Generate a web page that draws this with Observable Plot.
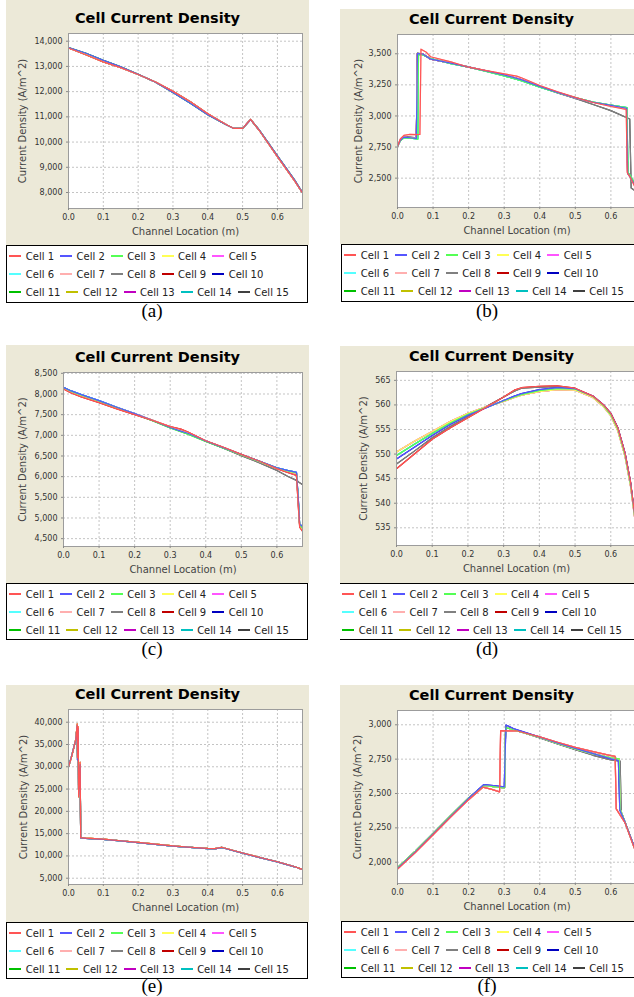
<!DOCTYPE html>
<html><head><meta charset="utf-8">
<script src="https://cdn.jsdelivr.net/npm/d3@7"></script>
<script src="https://cdn.jsdelivr.net/npm/@observablehq/plot@0.6"></script>
<style>
html,body{margin:0;padding:0;background:#fff;overflow:hidden;}
#fig{position:relative;width:634px;height:997px;overflow:hidden;background:#fff;}
.panel{position:absolute;background:#ECE9D8;}
.title{position:absolute;left:0;width:303px;text-align:center;font-family:"DejaVu Sans";font-weight:bold;font-size:14.5px;line-height:18px;color:#000;}
.plotwrap{position:absolute;}
.legend{position:absolute;background:#fff;border:1px solid #000;box-sizing:border-box;padding-left:2.3px;padding-top:1px;font-family:"DejaVu Sans";font-size:10px;color:#222;white-space:nowrap;overflow:hidden;}
.lrow{height:18px;display:flex;align-items:center;}
.item{display:flex;align-items:center;margin-right:6px;}
.swatch{width:12px;margin-right:4.5px;}
.caption{position:absolute;width:60px;text-align:center;font-family:"Liberation Serif";font-size:19px;line-height:18px;color:#000;}
</style></head>
<body><div id="fig"></div>
<script>
const cellNames = ["Cell 1","Cell 2","Cell 3","Cell 4","Cell 5","Cell 6","Cell 7","Cell 8","Cell 9","Cell 10","Cell 11","Cell 12","Cell 13","Cell 14","Cell 15"];
const cellColors = ["#ff5555","#5555ff","#55ff55","#ffff55","#ff55ff","#55ffff","#ffafaf","#808080","#c00000","#0000c0","#00c000","#c0c000","#c000c0","#00c0c0","#404040"];
const xTicks = [0, 0.1, 0.2, 0.3, 0.4, 0.5, 0.6];
const xDomain = [0, 0.672];
const titleText = "Cell Current Density";
const xLabel = "Channel Location (m)";
const yLabel = "Current Density (A/m^2)";
const captions = ["(a)","(b)","(c)","(d)","(e)","(f)"];

// ---- panel (a)
const aX = [0, 0.05, 0.1, 0.15, 0.2, 0.25, 0.3, 0.35, 0.4, 0.45, 0.475, 0.5, 0.523, 0.55, 0.6, 0.65, 0.672];
const aY1 = [13730, 13460, 13180, 12950, 12680, 12380, 12010, 11600, 11120, 10720, 10540, 10540, 10900, 10420, 9420, 8450, 7980];
const aY2 = [13750, 13520, 13240, 12980, 12690, 12370, 11970, 11540, 11080, 10710, 10540, 10540, 10890, 10440, 9450, 8480, 7990];
const aY3 = [13740, 13490, 13210, 12960, 12685, 12375, 11990, 11570, 11100, 10715, 10540, 10540, 10895, 10430, 9435, 8465, 7985];
const aCurveOfCell = [1,2,2,3,3,3,1,3,1,2,2,1,3,3,1];
const aYTicks = [8000, 9000, 10000, 11000, 12000, 13000, 14000];
const aYDomain = [7366, 14305];

// ---- panel (b)
const bX1 = [0, 0.008, 0.018, 0.035, 0.053, 0.056, 0.07, 0.093, 0.15, 0.2, 0.25, 0.3, 0.35, 0.4, 0.45, 0.5, 0.55, 0.6, 0.644, 0.647, 0.655, 0.672];
const bY1 = [2756, 2805, 2830, 2825, 2820, 3502, 3500, 3457, 3425, 3393, 3362, 3330, 3290, 3238, 3190, 3145, 3110, 3085, 3062, 2540, 2505, 2420];
const bX2 = [0, 0.008, 0.018, 0.035, 0.055, 0.063, 0.066, 0.08, 0.093, 0.15, 0.2, 0.25, 0.3, 0.335, 0.35, 0.4, 0.45, 0.5, 0.55, 0.6, 0.643, 0.646, 0.655, 0.672];
const bY2 = [2756, 2815, 2844, 2852, 2850, 2852, 3537, 3515, 3476, 3435, 3392, 3365, 3338, 3320, 3305, 3245, 3195, 3150, 3108, 3076, 3052, 2545, 2505, 2400];
const bX3 = [0, 0.008, 0.018, 0.035, 0.053, 0.056, 0.07, 0.093, 0.15, 0.2, 0.25, 0.3, 0.35, 0.4, 0.45, 0.5, 0.55, 0.6, 0.653, 0.657, 0.672];
const bY3 = [2756, 2808, 2835, 2830, 2825, 3505, 3498, 3460, 3428, 3395, 3360, 3325, 3288, 3235, 3185, 3140, 3092, 3043, 2975, 2420, 2390];
const bX4 = [0, 0.008, 0.018, 0.035, 0.057, 0.059, 0.07, 0.093, 0.15, 0.2, 0.25, 0.3, 0.35, 0.4, 0.45, 0.5, 0.55, 0.6, 0.645, 0.648, 0.655, 0.672];
const bY4 = [2756, 2800, 2825, 2822, 2815, 3495, 3492, 3462, 3420, 3392, 3358, 3322, 3282, 3232, 3188, 3148, 3112, 3088, 3068, 2545, 2520, 2430];
const bCurveOfCell = [2,1,4,1,1,4,2,3,1,1,4,1,1,4,3];
const bYTicks = [2500, 2750, 3000, 3250, 3500];
const bYDomain = [2264, 3655];

// ---- panel (c)
const cX = [0, 0.02, 0.05, 0.1, 0.15, 0.2, 0.25, 0.3, 0.33, 0.35, 0.4, 0.45, 0.5, 0.55, 0.6, 0.63, 0.655, 0.66, 0.664, 0.672];
const cY1 = [8140, 8060, 7960, 7820, 7670, 7520, 7370, 7200, 7110, 7060, 6870, 6700, 6530, 6370, 6200, 6130, 6080, 5400, 4820, 4720];
const cY2 = [8120, 8030, 7930, 7790, 7640, 7500, 7360, 7210, 7150, 7080, 6870, 6710, 6540, 6380, 6195, 6100, 6030, 5300, 4780, 4680];
const cY3 = [8150, 8060, 7960, 7815, 7665, 7515, 7360, 7190, 7100, 7050, 6860, 6690, 6510, 6340, 6150, 6010, 5910, 5880, 5850, 5810];
const cY4 = [8160, 8080, 7985, 7840, 7680, 7525, 7365, 7190, 7100, 7050, 6865, 6700, 6535, 6380, 6215, 6150, 6105, 5500, 4850, 4800];
const cY5 = [8150, 8070, 7970, 7825, 7670, 7515, 7355, 7180, 7090, 7030, 6850, 6690, 6525, 6370, 6205, 6140, 6090, 5450, 4830, 4750];
const cCurveOfCell = [2,4,5,1,1,4,1,3,2,4,5,1,1,4,3];
const cYTicks = [4500, 5000, 5500, 6000, 6500, 7000, 7500, 8000, 8500];
const cYDomain = [4310, 8520];

// ---- panel (d)
const dX = [0, 0.05, 0.1, 0.15, 0.2, 0.25, 0.3, 0.33, 0.35, 0.4, 0.45, 0.5, 0.55, 0.58, 0.6, 0.62, 0.64, 0.655, 0.672];
const dY1 = [547.0, 550.0, 553.0, 555.3, 557.4, 559.5, 561.6, 563.0, 563.5, 563.8, 563.9, 563.4, 561.8, 560.0, 558.3, 555.3, 550.2, 544.5, 534.8];
const dY2 = [548.0, 550.6, 553.3, 555.6, 557.6, 559.6, 561.6, 562.8, 563.4, 563.6, 563.7, 563.3, 561.7, 559.9, 558.2, 555.2, 550.0, 544.3, 534.6];
const dY3 = [549.0, 551.4, 553.8, 556.0, 557.9, 559.4, 560.9, 561.8, 562.3, 563.1, 563.5, 563.3, 561.8, 560.0, 558.3, 555.3, 550.2, 544.4, 534.8];
const dY4 = [549.7, 552.0, 554.2, 556.3, 558.1, 559.5, 560.8, 561.6, 562.1, 562.9, 563.3, 563.2, 561.7, 559.8, 558.0, 555.0, 549.8, 544.0, 534.5];
const dY5 = [550.4, 552.6, 554.6, 556.6, 558.3, 559.6, 560.7, 561.5, 562.0, 562.7, 563.1, 563.0, 561.5, 559.6, 557.8, 554.7, 549.5, 543.6, 534.2];
const dCurveOfCell = [1,3,4,5,5,4,5,2,1,3,4,5,5,4,2];
const dYTicks = [535, 540, 545, 550, 555, 560, 565];
const dYDomain = [531.4, 566.8];

// ---- panel (e)
const eX = [0, 0.008, 0.015, 0.021, 0.025, 0.026, 0.028, 0.029, 0.0335, 0.035, 0.05, 0.1, 0.15, 0.2, 0.25, 0.3, 0.35, 0.4, 0.42, 0.44, 0.5, 0.55, 0.6, 0.65, 0.672];
const eY1 = [30000, 32000, 34200, 36200, 39600, 32000, 39000, 23300, 31000, 14100, 14000, 13770, 13400, 13030, 12650, 12270, 11950, 11680, 11620, 11950, 10650, 9650, 8700, 7580, 6970];
const eY2 = [30050, 32100, 34300, 36000, 39300, 31500, 38600, 23600, 30500, 14050, 13950, 13720, 13360, 13000, 12610, 12220, 11900, 11640, 11600, 11900, 10620, 9620, 8660, 7560, 6960];
const eCurveOfCell = [1,2,2,1,2,2,1,1,1,2,2,1,2,2,1];
const eYTicks = [5000, 10000, 15000, 20000, 25000, 30000, 35000, 40000];
const eYDomain = [3590, 42850];

// ---- panel (f)
const fX1 = [0, 0.05, 0.1, 0.15, 0.2, 0.243, 0.27, 0.3, 0.305, 0.33, 0.4, 0.45, 0.5, 0.55, 0.6, 0.621, 0.625, 0.64, 0.672];
const fY1 = [1955, 2075, 2205, 2335, 2465, 2565, 2558, 2548, 2998, 2968, 2910, 2868, 2828, 2790, 2752, 2740, 2380, 2290, 2070];
const fX2 = [0, 0.05, 0.1, 0.15, 0.2, 0.24, 0.265, 0.287, 0.29, 0.337, 0.4, 0.45, 0.5, 0.55, 0.6, 0.612, 0.615, 0.64, 0.672];
const fY2 = [1950, 2070, 2200, 2330, 2455, 2546, 2530, 2512, 2957, 2955, 2912, 2873, 2836, 2805, 2775, 2770, 2388, 2285, 2060];
const fX3 = [0, 0.05, 0.1, 0.15, 0.2, 0.243, 0.27, 0.301, 0.304, 0.33, 0.4, 0.45, 0.5, 0.55, 0.6, 0.623, 0.626, 0.64, 0.672];
const fY3 = [1960, 2080, 2210, 2340, 2468, 2558, 2550, 2540, 2982, 2960, 2908, 2865, 2825, 2788, 2760, 2752, 2385, 2290, 2065];
const fX4 = [0, 0.05, 0.1, 0.15, 0.2, 0.243, 0.27, 0.301, 0.304, 0.33, 0.4, 0.45, 0.5, 0.55, 0.6, 0.626, 0.629, 0.64, 0.672];
const fY4 = [1958, 2078, 2205, 2335, 2462, 2560, 2553, 2545, 2985, 2962, 2905, 2860, 2818, 2778, 2745, 2735, 2365, 2290, 2068];
const fCurveOfCell = [2,1,3,3,3,3,2,4,2,1,3,3,3,3,4];
const fYTicks = [2000, 2250, 2500, 2750, 3000];
const fYDomain = [1845, 3104];

// ---- layout of the six panels (pixel geometry)
const panels = [
  {curves:[[aX,aY1],[aX,aY2],[aX,aY3]], map:aCurveOfCell, yTicks:aYTicks, yDomain:aYDomain,
   left:6, top:-4, titleY:18, plotLeft:68, plotTop:33, plotBottom:208, legLeft:6, legTop:245, legH:58, capX:152, capY:311, ylabDx:-46, rowW:[1.5,2,1.5], noLeft:false},
  {curves:[[bX1,bY1],[bX2,bY2],[bX3,bY3],[bX4,bY4]], map:bCurveOfCell, yTicks:bYTicks, yDomain:bYDomain,
   left:340, top:9, titleY:19, plotLeft:397, plotTop:34, plotBottom:207, legLeft:341, legTop:244, legH:58, capX:487, capY:311, ylabDx:-39, rowW:[2,1.5,2], noLeft:false},
  {curves:[[cX,cY1],[cX,cY2],[cX,cY3],[cX,cY4],[cX,cY5]], map:cCurveOfCell, yTicks:cYTicks, yDomain:cYDomain,
   left:6, top:345, titleY:357, plotLeft:63, plotTop:372, plotBottom:546, legLeft:6, legTop:583, legH:57, capX:152, capY:649, ylabDx:-41, rowW:[1.5,1.5,2], noLeft:false},
  {curves:[[dX,dY1],[dX,dY2],[dX,dY3],[dX,dY4],[dX,dY5]], map:dCurveOfCell, yTicks:dYTicks, yDomain:dYDomain,
   left:340, top:346, titleY:356, plotLeft:396, plotTop:371, plotBottom:545, legLeft:340, legTop:583, legH:57, capX:487, capY:649, ylabDx:-33, rowW:[1.5,2,1.5], noLeft:true},
  {curves:[[eX,eY1],[eX,eY2]], map:eCurveOfCell, yTicks:eYTicks, yDomain:eYDomain,
   left:6, top:685, titleY:694, plotLeft:68, plotTop:709, plotBottom:884, legLeft:6, legTop:922, legH:57, capX:152, capY:986, ylabDx:-45, rowW:[1.5,2,1.5], noLeft:false},
  {curves:[[fX1,fY1],[fX2,fY2],[fX3,fY3],[fX4,fY4]], map:fCurveOfCell, yTicks:fYTicks, yDomain:fYDomain,
   left:340, top:685, titleY:695, plotLeft:397, plotTop:710, plotBottom:883, legLeft:341, legTop:921, legH:57, capX:487, capY:986, ylabDx:-40, rowW:[2,1.5,2], noLeft:false}
];

const fig = document.getElementById("fig");
const W = 303, MR = 7, MT = 4, MB = 36;

panels.forEach((p, k) => {
  const div = document.createElement("div");
  div.className = "panel";
  div.style.left = p.left + "px";
  div.style.top = p.top + "px";
  div.style.width = W + "px";
  div.style.height = (p.legTop - p.top) + "px";
  fig.appendChild(div);

  const t = document.createElement("div");
  t.className = "title";
  t.style.top = (p.titleY - p.top - 9) + "px";
  t.textContent = titleText;
  div.appendChild(t);

  const lineMarks = [];
  for (let i = 14; i >= 0; i--) {
    const [xs, ys] = p.curves[p.map[i] - 1];
    const pts = xs.map((x, j) => ({x, y: ys[j]}));
    lineMarks.push(Plot.line(pts, {x: "x", y: "y", stroke: cellColors[i], strokeWidth: 1.2, clip: true}));
  }
  const gridStyle = {stroke: "#c4c4c4", strokeOpacity: 1, strokeDasharray: "2,2", strokeWidth: 1};
  const svg = Plot.plot({
    width: W,
    height: p.plotBottom - p.plotTop + MT + MB,
    marginLeft: p.plotLeft - p.left, marginRight: MR, marginTop: MT, marginBottom: MB,
    x: {domain: xDomain, label: null},
    y: {domain: p.yDomain, label: null},
    style: {background: "transparent", fontFamily: "DejaVu Sans", overflow: "visible"},
    marks: [
      Plot.frame({fill: "#ffffff", stroke: "none"}),
      Plot.gridX(xTicks, gridStyle),
      Plot.gridY(p.yTicks, gridStyle),
      ...lineMarks,
      Plot.frame({stroke: "#9c9c9c", fill: "none"}),
      Plot.axisX(xTicks, {tickFormat: d3.format(".1f"), tickSize: 2, tickPadding: 4, fontSize: 8, stroke: "#888", fill: "#333", label: null}),
      Plot.axisY(p.yTicks, {tickFormat: d3.format(","), tickSize: 2, tickPadding: 4, fontSize: 8, stroke: "#888", fill: "#333", label: null}),
      Plot.text([xLabel], {text: d => d, frameAnchor: "bottom", dy: 23.5, lineAnchor: "middle", textAnchor: "middle", fontSize: 10, fill: "#444"}),
      Plot.text([yLabel], {text: d => d, frameAnchor: "left", rotate: -90, dx: p.ylabDx, lineAnchor: "middle", textAnchor: "middle", fontSize: 10, fill: "#444"})
    ]
  });
  const wrap = document.createElement("div");
  wrap.className = "plotwrap";
  wrap.style.left = "0px";
  wrap.style.top = (p.plotTop - MT - p.top) + "px";
  wrap.appendChild(svg);
  div.appendChild(wrap);

  const leg = document.createElement("div");
  leg.className = "legend";
  leg.style.left = p.legLeft + "px";
  leg.style.top = p.legTop + "px";
  leg.style.width = "302px";
  leg.style.height = p.legH + "px";
  if (p.noLeft) { leg.style.borderLeft = "none"; leg.style.borderRight = "none"; }
  for (let r = 0; r < 3; r++) {
    const row = document.createElement("div");
    row.className = "lrow";
    for (let c = 0; c < 5; c++) {
      const i = r * 5 + c;
      const item = document.createElement("div");
      item.className = "item";
      const sw = document.createElement("span");
      sw.className = "swatch";
      sw.style.height = p.rowW[r] + "px";
      sw.style.background = cellColors[i];
      const tx = document.createElement("span");
      tx.textContent = cellNames[i];
      item.appendChild(sw);
      item.appendChild(tx);
      row.appendChild(item);
    }
    leg.appendChild(row);
  }
  fig.appendChild(leg);

  const cap = document.createElement("div");
  cap.className = "caption";
  cap.style.left = (p.capX - 30) + "px";
  cap.style.top = (p.capY - 9) + "px";
  cap.textContent = captions[k];
  fig.appendChild(cap);
});
</script></body></html>
